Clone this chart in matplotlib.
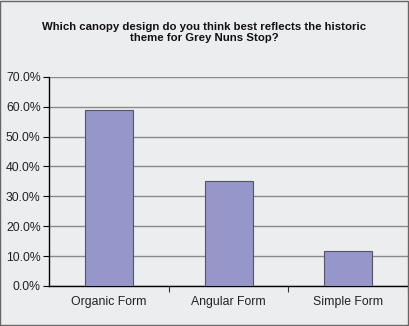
import matplotlib
matplotlib.use('Agg')
import matplotlib.pyplot as plt
from matplotlib.patches import Rectangle
from matplotlib.ticker import PercentFormatter

# ===== Data =====
categories = ["Organic Form", "Angular Form", "Simple Form"]
shares = [0.588, 0.352, 0.118]
y_ticks = [0.0, 0.1, 0.2, 0.3, 0.4, 0.5, 0.6, 0.7]
title = "Which canopy design do you think best reflects the historic\ntheme for Grey Nuns Stop?"

BG = "#ECEDEF"
BAR = "#9596C9"

plt.rcParams['font.family'] = ['Liberation Sans', 'DejaVu Sans']

fig = plt.figure(figsize=(4.09, 3.26), dpi=100, facecolor=BG)
ax = fig.add_axes([0.12, 0.123, 0.878, 0.641])
ax.set_facecolor(BG)

x = list(range(len(categories)))
ax.bar(x, shares, width=0.4, color=BAR, edgecolor="#555566", linewidth=0.8, zorder=3)

ax.set_ylim(0, 0.7)
ax.set_xlim(-0.5, len(categories) - 0.5)
ax.set_yticks(y_ticks)
ax.yaxis.set_major_formatter(PercentFormatter(1.0, decimals=1))
ax.yaxis.grid(True, color="#8A8A8A", linewidth=1.0, zorder=0)
ax.set_axisbelow(True)

ax.set_xticks(x)
ax.set_xticklabels(categories)
ax.set_xticks([i + 0.5 for i in x], minor=True)
ax.tick_params(axis='x', which='major', length=0, pad=7, labelsize=8.8, colors="#222222")
ax.tick_params(axis='x', which='minor', length=4, width=0.8, color="#333333")
ax.tick_params(axis='y', length=4, width=0.8, pad=2, labelsize=8.8, labelcolor="#222222")

for side in ["top", "right"]:
    ax.spines[side].set_visible(False)
ax.spines["left"].set_color("black")
ax.spines["bottom"].set_color("black")
ax.spines["left"].set_linewidth(1.0)
ax.spines["bottom"].set_linewidth(1.0)

fig.text(0.5, 0.90, title, ha='center', va='center', fontsize=8.2,
         fontweight='bold', color="#111111", linespacing=1.2)

# outer chart border
fig.patches.append(Rectangle((0.001, 0.002), 0.997, 0.995, transform=fig.transFigure,
                             fill=False, edgecolor="#666666", linewidth=1.0))

plt.savefig("out.png", dpi=100, facecolor=BG)
plt.close()
